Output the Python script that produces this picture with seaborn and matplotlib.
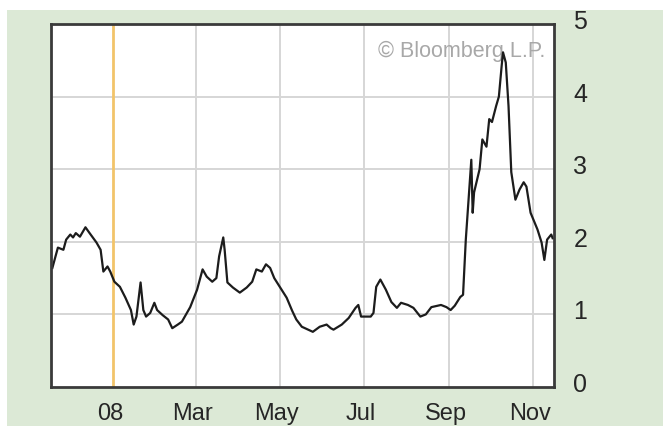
import matplotlib
matplotlib.use("Agg")
import matplotlib.pyplot as plt
import matplotlib.dates as mdates
import matplotlib.transforms as mtransforms
from matplotlib.patches import Rectangle
import pandas as pd
import seaborn as sns

# ---- data ----
dates = [
    "2007-11-18", "2007-11-20", "2007-11-22", "2007-11-26", "2007-11-28", "2007-12-01",
    "2007-12-03", "2007-12-05", "2007-12-08", "2007-12-12", "2007-12-15", "2007-12-20",
    "2007-12-23", "2007-12-25", "2007-12-28", "2007-12-30", "2008-01-02", "2008-01-06",
    "2008-01-10", "2008-01-14", "2008-01-16", "2008-01-18", "2008-01-21", "2008-01-23",
    "2008-01-25", "2008-01-28", "2008-01-31", "2008-02-02", "2008-02-06", "2008-02-10",
    "2008-02-13", "2008-02-17", "2008-02-20", "2008-02-26", "2008-03-02", "2008-03-06",
    "2008-03-09", "2008-03-13", "2008-03-16", "2008-03-18", "2008-03-21", "2008-03-22",
    "2008-03-24", "2008-03-28", "2008-04-02", "2008-04-07", "2008-04-11", "2008-04-14",
    "2008-04-18", "2008-04-21", "2008-04-24", "2008-04-27", "2008-05-01", "2008-05-06",
    "2008-05-10", "2008-05-13", "2008-05-17", "2008-05-25", "2008-05-30", "2008-06-04",
    "2008-06-07", "2008-06-09", "2008-06-15", "2008-06-20", "2008-06-25", "2008-06-27",
    "2008-06-29", "2008-07-06", "2008-07-08", "2008-07-10", "2008-07-13", "2008-07-17",
    "2008-07-21", "2008-07-25", "2008-07-28", "2008-08-02", "2008-08-06", "2008-08-11",
    "2008-08-15", "2008-08-19", "2008-08-26", "2008-08-30", "2008-09-02", "2008-09-05",
    "2008-09-09", "2008-09-11", "2008-09-13", "2008-09-15", "2008-09-17", "2008-09-18",
    "2008-09-19", "2008-09-23", "2008-09-25", "2008-09-28", "2008-09-30", "2008-10-02",
    "2008-10-05", "2008-10-07", "2008-10-09", "2008-10-10", "2008-10-12", "2008-10-14",
    "2008-10-16", "2008-10-19", "2008-10-22", "2008-10-25", "2008-10-27", "2008-10-30",
    "2008-11-04", "2008-11-07", "2008-11-09", "2008-11-11", "2008-11-14", "2008-11-15",
]
values = [
    1.64, 1.78, 1.92, 1.89, 2.03, 2.10,
    2.06, 2.12, 2.07, 2.20, 2.12, 1.99,
    1.89, 1.59, 1.66, 1.59, 1.45, 1.38,
    1.23, 1.06, 0.86, 0.97, 1.44, 1.06,
    0.97, 1.02, 1.16, 1.06, 0.99, 0.93,
    0.81, 0.86, 0.90, 1.10, 1.34, 1.62,
    1.52, 1.45, 1.50, 1.80, 2.06, 1.89,
    1.44, 1.37, 1.30, 1.37, 1.45, 1.62,
    1.59, 1.69, 1.64, 1.50, 1.38, 1.23,
    1.05, 0.93, 0.83, 0.76, 0.83, 0.86,
    0.81, 0.79, 0.86, 0.95, 1.09, 1.13,
    0.97, 0.97, 1.02, 1.38, 1.48, 1.34,
    1.17, 1.09, 1.16, 1.13, 1.09, 0.97,
    1.00, 1.10, 1.13, 1.10, 1.06, 1.12,
    1.24, 1.27, 2.03, 2.58, 3.13, 2.40,
    2.68, 3.00, 3.41, 3.31, 3.69, 3.65,
    3.87, 4.00, 4.42, 4.61, 4.47, 3.87,
    2.96, 2.58, 2.72, 2.82, 2.76, 2.40,
    2.17, 1.99, 1.75, 2.03, 2.10, 2.05,
]
tick_dates = ["2008-01-01", "2008-03-01", "2008-05-01", "2008-07-01", "2008-09-01", "2008-11-01"]
tick_labels = ["08", "Mar", "May", "Jul", "Sep", "Nov"]
y_ticks = [0, 1, 2, 3, 4, 5]
marker_date = "2008-01-01"

df = pd.DataFrame({"date": pd.to_datetime(dates), "value": values})

W, H = 663, 427
fig = plt.figure(figsize=(W / 100, H / 100), dpi=100, facecolor="white")
fig.patches.append(Rectangle((7 / W, 0), 1 - 7 / W, 1 - 11 / H, transform=fig.transFigure,
                             facecolor="#dce9d6", edgecolor="none", zorder=-10))

ax = fig.add_axes([51 / W, (H - 388) / H, (554 - 51) / W, (388 - 25) / H])
ax.set_zorder(1)
ax.set_facecolor("white")

font = ["Liberation Sans", "DejaVu Sans"]
txt_color = "#262626"

# grid
for d in tick_dates[1:]:
    ax.axvline(pd.Timestamp(d), color="#d6d6d6", lw=1.4, zorder=1)
for yv in y_ticks[1:-1]:
    ax.axhline(yv, color="#d6d6d6", lw=1.4, zorder=1)
ax.axvline(pd.Timestamp(marker_date), color="#f2c46a", lw=2.0, zorder=2)

sns.lineplot(data=df, x="date", y="value", ax=ax, color="#1c1c1c", lw=1.6,
             estimator=None, zorder=3)

ax.set_xlim(pd.Timestamp("2007-11-17"), pd.Timestamp("2008-11-16"))
ax.set_ylim(0, 5)
ax.set_xlabel("")
ax.set_ylabel("")

ax.set_xticks([mdates.date2num(pd.Timestamp(d)) for d in tick_dates])
ax.set_xticklabels(tick_labels, fontfamily=font, fontsize=17, color=txt_color)
ax.yaxis.tick_right()
ax.set_yticks(y_ticks)
ax.set_yticklabels([str(v) for v in y_ticks], fontfamily=font, fontsize=18, color=txt_color)
ax.tick_params(axis="both", length=0)
ax.tick_params(axis="x", pad=11)
ax.tick_params(axis="y", pad=14)
shift_up = mtransforms.ScaledTranslation(0, 3 / 100, fig.dpi_scale_trans)
for lab in ax.get_yticklabels():
    lab.set_va("center")
    lab.set_transform(lab.get_transform() + shift_up)
shift_left = mtransforms.ScaledTranslation(-3 / 100, 0, fig.dpi_scale_trans)
for lab in ax.get_xticklabels():
    lab.set_transform(lab.get_transform() + shift_left)

for s in ax.spines.values():
    s.set_color("#3a3a3a")
    s.set_linewidth(2.0)
    s.set_zorder(5)

ax.text(0.982, 0.955, "\u00a9 Bloomberg L.P.", transform=ax.transAxes, ha="right", va="top",
        fontsize=15.5, color="#a8a8a8", fontfamily=font, zorder=2)

fig.savefig("out.png", dpi=100, facecolor=fig.get_facecolor())
